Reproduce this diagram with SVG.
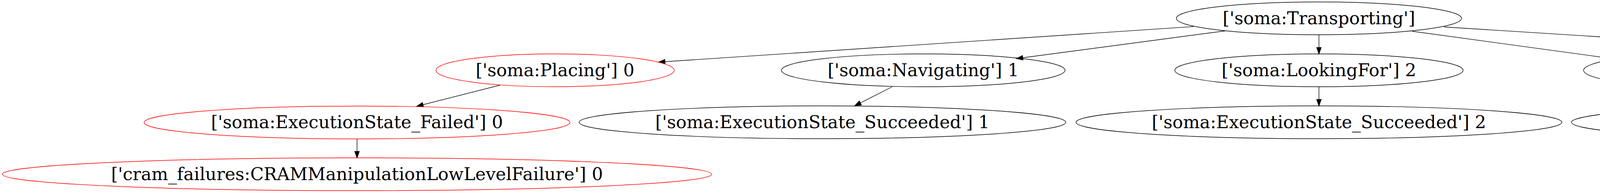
<svg xmlns="http://www.w3.org/2000/svg" width="6547" height="494" viewBox="0 0 6547 494">
<style>
.n ellipse{fill:none;stroke:#000;stroke-width:1.4}
.n.red ellipse{stroke:#ff0000}
.n text{font-family:"DejaVu Serif",serif;font-size:45px;fill:#000;text-anchor:middle}
.e line{stroke:#000;stroke-width:1.4}
</style>
<defs>
<marker id="ah" markerUnits="userSpaceOnUse" markerWidth="20" markerHeight="14" viewBox="-1 -6 16 12" refX="14" refY="0" orient="auto">
<path d="M0,-4.9 L14,0 L0,4.9 Z" fill="#000" stroke="#000" stroke-width="1.4"/>
</marker>
</defs>
<rect width="6547" height="494" fill="#fff"/>
<g id="connectors" class="e">
<line x1="3055" y1="68" x2="1686" y2="159" marker-end="url(#ah)"/>
<line x1="3137" y1="79" x2="2602" y2="150" marker-end="url(#ah)"/>
<line x1="3376.5" y1="89" x2="3376.5" y2="138" marker-end="url(#ah)"/>
<line x1="3615" y1="80" x2="4142" y2="152" marker-end="url(#ah)"/>
<line x1="3697" y1="69" x2="5178" y2="163" marker-end="url(#ah)"/>
<line x1="1280" y1="218" x2="1067" y2="272" marker-end="url(#ah)"/>
<line x1="914" y1="356" x2="914" y2="404" marker-end="url(#ah)"/>
<line x1="2284" y1="222" x2="2188" y2="271" marker-end="url(#ah)"/>
<line x1="3376.5" y1="222" x2="3376.5" y2="271" marker-end="url(#ah)"/>
<line x1="4448" y1="222" x2="4551" y2="271" marker-end="url(#ah)"/>
<line x1="5587" y1="218" x2="5771" y2="272" marker-end="url(#ah)"/>
</g>
<g id="transporting" class="n"><ellipse cx="3376.5" cy="47" rx="365" ry="42"/><text x="3376.5" y="61.5">['soma:Transporting']</text></g>
<g id="placing0" class="n red"><ellipse cx="1421" cy="180" rx="305" ry="42"/><text x="1421" y="194.5">['soma:Placing'] 0</text></g>
<g id="navigating1" class="n"><ellipse cx="2363.5" cy="180" rx="363" ry="42"/><text x="2363.5" y="194.5">['soma:Navigating'] 1</text></g>
<g id="lookingfor2" class="n"><ellipse cx="3376.5" cy="180" rx="369" ry="42"/><text x="3376.5" y="194.5">['soma:LookingFor'] 2</text></g>
<g id="placing3" class="n"><ellipse cx="4358.5" cy="180" rx="304.5" ry="42"/><text x="4358.5" y="194.5">['soma:Placing'] 3</text></g>
<g id="sealing4" class="n"><ellipse cx="5453.5" cy="180" rx="304.5" ry="42"/><text x="5453.5" y="194.5">['soma:Sealing'] 4</text></g>
<g id="failed0" class="n red"><ellipse cx="914" cy="313.5" rx="545" ry="42"/><text x="914" y="328">['soma:ExecutionState_Failed'] 0</text></g>
<g id="succeeded1" class="n"><ellipse cx="2105.5" cy="313" rx="623" ry="42"/><text x="2105.5" y="327.5">['soma:ExecutionState_Succeeded'] 1</text></g>
<g id="succeeded2" class="n"><ellipse cx="3376.5" cy="313" rx="622" ry="42"/><text x="3376.5" y="327.5">['soma:ExecutionState_Succeeded'] 2</text></g>
<g id="succeeded3" class="n"><ellipse cx="4646" cy="313" rx="623" ry="42"/><text x="4646" y="327.5">['soma:ExecutionState_Succeeded'] 3</text></g>
<g id="succeeded4" class="n"><ellipse cx="5917.5" cy="313" rx="623.5" ry="42"/><text x="5917.5" y="327.5">['soma:ExecutionState_Succeeded'] 4</text></g>
<g id="cramfailure0" class="n red"><ellipse cx="914" cy="446" rx="908" ry="42"/><text x="914" y="460.5">['cram_failures:CRAMManipulationLowLevelFailure'] 0</text></g>
</svg>
